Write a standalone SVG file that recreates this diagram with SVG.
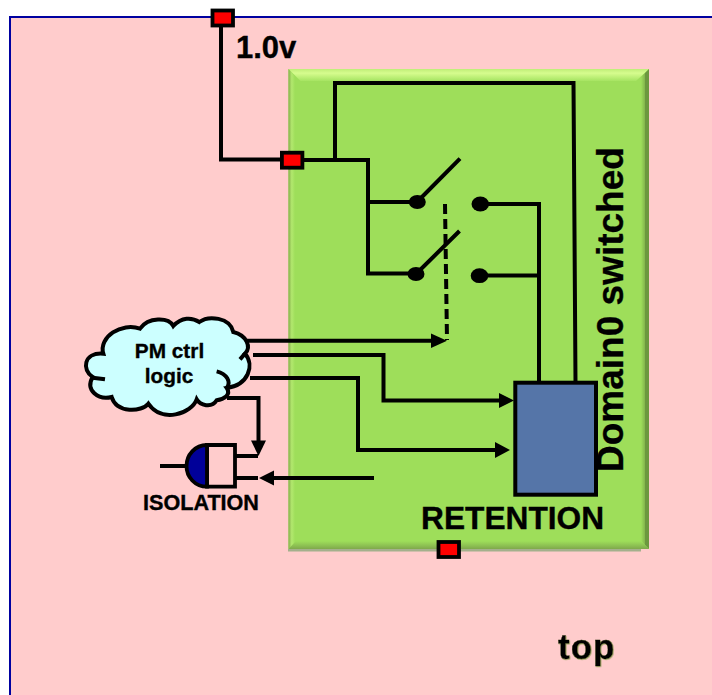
<svg xmlns="http://www.w3.org/2000/svg" width="712" height="695" viewBox="0 0 712 695">
<style>
.w{fill:none;stroke:#000;stroke-width:4;stroke-linejoin:miter}
.port{fill:#f00;stroke:#000;stroke-width:3.8}
text{font-family:"Liberation Sans",Arial,sans-serif;font-weight:bold;fill:#000;stroke:#000;stroke-width:0.35}
.head{fill:#000;stroke:none}
</style>
<defs>
<linearGradient id="gt" x1="0" y1="0" x2="0" y2="1"><stop offset="0" stop-color="#bfee78"/><stop offset="0.35" stop-color="#d6fc8e"/><stop offset="1" stop-color="#a6e462"/></linearGradient>
<linearGradient id="gl" x1="0" y1="0" x2="1" y2="0"><stop offset="0" stop-color="#86ae4c"/><stop offset="0.5" stop-color="#b2e86e"/><stop offset="1" stop-color="#9ede5a"/></linearGradient>
<linearGradient id="gr" x1="0" y1="0" x2="1" y2="0"><stop offset="0" stop-color="#9ede5a"/><stop offset="0.45" stop-color="#86b84e"/><stop offset="0.5" stop-color="#6c983e"/><stop offset="1" stop-color="#6c983e"/></linearGradient>
<linearGradient id="gb" x1="0" y1="0" x2="0" y2="1"><stop offset="0" stop-color="#9ede5a"/><stop offset="0.6" stop-color="#8cbf52"/><stop offset="1" stop-color="#7fa84c"/></linearGradient>
<filter id="soft" x="-10%" y="-10%" width="120%" height="120%"><feDropShadow dx="0.7" dy="0.7" stdDeviation="0.6" flood-color="#8a9a50" flood-opacity="0.9"/></filter>
</defs>
<rect id="top-frame" x="10" y="17" width="704" height="680" fill="#ffcccc" stroke="#0000a0" stroke-width="2"/>
<g id="domain0">
<rect x="288" y="549" width="353" height="2.500" fill="#a4b08c"/>
<rect x="288.500" y="69" width="360.500" height="480" fill="#9ede5a"/>
<polygon points="288.500,69 649,69 636,81 300.500,81" fill="url(#gt)"/>
<polygon points="288.500,69 295,76 295,543 288.500,549" fill="url(#gl)"/>
<polygon points="649,69 641,77 641,541 649,549" fill="url(#gr)"/>
<polygon points="288.500,549 649,549 641,541 296,541" fill="url(#gb)"/>
</g>
<g id="connectors">
<path class="w" d="M221 26V159.500H283"/>
<path class="w" d="M303 160H368V273.500H416M368 202H417M335 160V83H573.500L575.500 382"/>
<path class="w" d="M417 202L460 158.700M416 274L459.500 231"/>
<path class="w" d="M480 204H539V382M480 275.500H539"/>
<path class="w" d="M445 204L447 340" stroke-dasharray="10 5"/>
<path class="w" d="M247 340.700H433"/><polygon class="head" points="431,333.500 447,340.700 431,348"/>
<path class="w" d="M253 355H383.500V400.500H501"/><polygon class="head" points="499,393 514,400.500 499,408"/>
<path class="w" d="M250 378H358V450H497"/><polygon class="head" points="495,442 510,450 495,458"/>
<path class="w" d="M227 398H258.500V442"/><polygon class="head" points="251,440.500 266,440.500 258.500,456"/>
<path class="w" d="M235 456H258M235 478H258M160 466H186"/>
<path class="w" d="M374 478H272"/><polygon class="head" points="274,470.500 274,485.500 259,478"/>
</g>
<g id="port-top"><rect class="port" x="212.500" y="10.500" width="20.500" height="15"/></g>
<g id="port-domain"><rect class="port" x="281.900" y="152.700" width="20.500" height="15"/></g>
<g id="port-retention"><rect class="port" x="438.500" y="542" width="20.500" height="15"/></g>
<g id="switch-contacts">
<ellipse cx="417.300" cy="202" rx="8.500" ry="7"/>
<ellipse cx="416" cy="274" rx="8.500" ry="7"/>
<ellipse cx="480.300" cy="204" rx="8.800" ry="7.400"/>
<ellipse cx="479.500" cy="275.700" rx="8.800" ry="7.400"/>
</g>
<g id="retention-block"><rect x="515.300" y="382.700" width="80.700" height="112" fill="#5575a8" stroke="#000" stroke-width="4"/></g>
<text id="label-domain" x="622.500" y="472" transform="rotate(-90 622.500 472)" font-size="37">Domain0 switched</text>
<g id="pm-ctrl">
<g transform="translate(80 312) scale(0.3333)">
<path d="M70 125C55 75 125 30 180 50C205 15 265 15 280 42C305 15 335 15 358 30C385 10 450 15 460 60C500 70 515 105 495 125C525 160 505 220 440 228C455 250 430 262 410 265C395 290 360 280 350 262C335 305 245 335 205 275C185 300 110 305 95 255C55 265 15 235 38 195C5 175 10 120 70 125Z" fill="#ccffff" stroke="#000" stroke-width="12"/>
<path d="M480 142L495 125M410 178C440 185 455 210 440 228M38 197L75 202" fill="none" stroke="#000" stroke-width="12"/>
</g>
<text x="169.500" y="358" font-size="20.800" text-anchor="middle">PM ctrl</text>
<text x="169" y="383" font-size="20.800" text-anchor="middle">logic</text>
</g>
<g id="isolation">
<path d="M207 445H235V486.700H207Z" fill="#ffcccc" stroke="#000" stroke-width="3.800"/>
<path d="M207 445C195 445 186.500 455 186.500 466C186.500 477 195 486.700 207 486.700Z" fill="#000099" stroke="#000" stroke-width="3.800"/>
<text x="143" y="510" font-size="21.600">ISOLATION</text>
</g>
<text id="label-voltage" x="236" y="58" font-size="31">1.0v</text>
<text id="label-retention" x="421" y="528.500" font-size="31.700">RETENTION</text>
<text id="label-top" x="558" y="659" font-size="35" letter-spacing="1" filter="url(#soft)">top</text>
</svg>
